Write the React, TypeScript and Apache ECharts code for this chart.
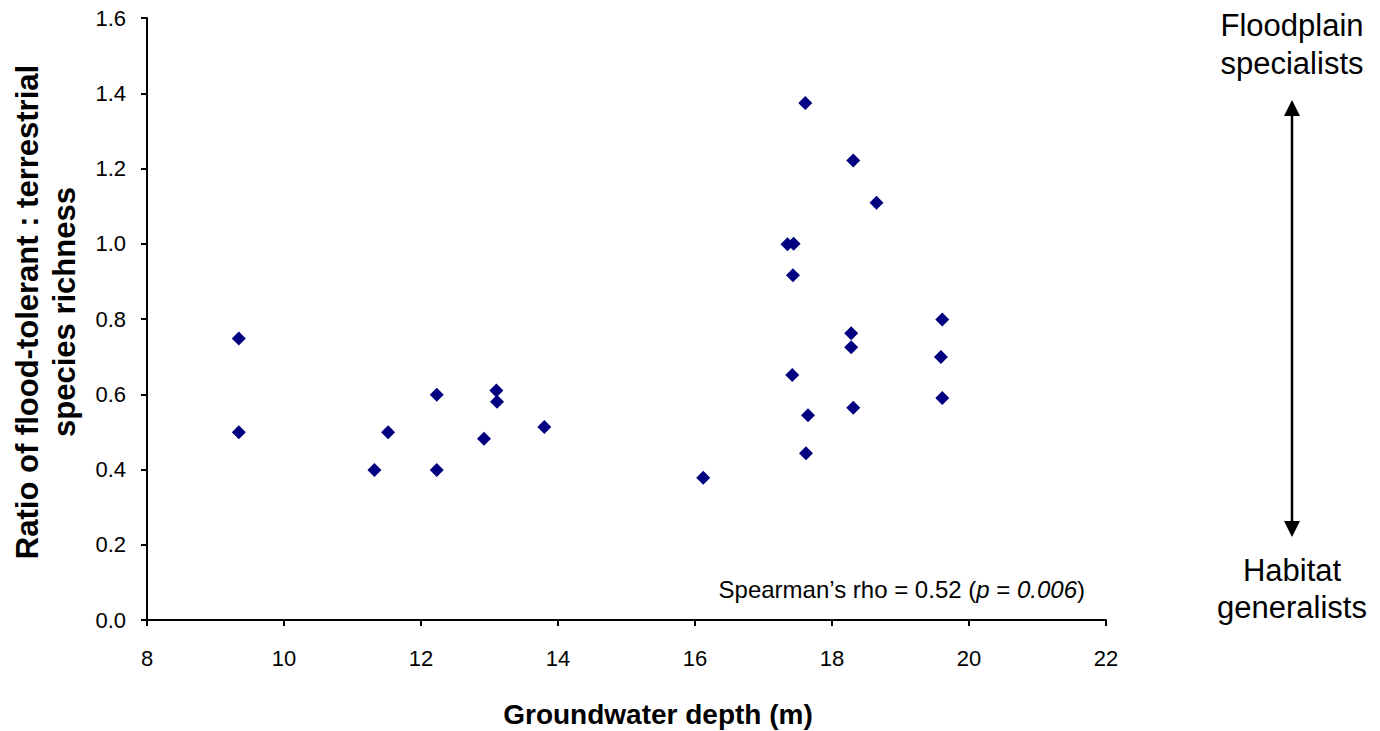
import React, { useEffect, useRef } from "react";
import * as echarts from "echarts";

const groundwaterDepth: number[] = [
  9.34, 9.34, 11.32, 11.52, 12.23, 12.23, 12.92, 13.1, 13.11, 13.8,
  16.12, 17.61, 17.35, 17.44, 17.43, 17.42, 17.65, 17.62,
  18.31, 18.65, 18.28, 18.28, 18.31, 19.59, 19.61, 19.61,
];
const floodRatio: number[] = [
  0.748, 0.499, 0.399, 0.499, 0.599, 0.399, 0.482, 0.61, 0.58, 0.513,
  0.378, 1.374, 0.999, 1.0, 0.916, 0.651, 0.544, 0.443,
  1.221, 1.109, 0.762, 0.725, 0.564, 0.699, 0.799, 0.59,
];

const xTitle = "Groundwater depth (m)";
const yTitleLines = ["Ratio of flood-tolerant : terrestrial", "species richness"];
const topLabel = ["Floodplain", "specialists"];
const bottomLabel = ["Habitat", "generalists"];

const FONT = '"Liberation Sans", Arial, Helvetica, sans-serif';

export default function App() {
  const ref = useRef<HTMLDivElement>(null);

  useEffect(() => {
    document.body.style.margin = "0";
    if (!ref.current) return;
    const chart = echarts.init(ref.current, undefined, { renderer: "svg" });
    const points = groundwaterDepth.map((x, i) => [x, floodRatio[i]]);

    const axisLine = { show: true, lineStyle: { color: "#000", width: 2 } };
    const axisTick = { show: true, inside: false, length: 6, lineStyle: { color: "#000", width: 2 } };

    chart.setOption({
      animation: false,
      backgroundColor: "#fff",
      grid: { left: 147, right: 274, top: 18, bottom: 111, containLabel: false },
      xAxis: {
        type: "value",
        min: 8,
        max: 22,
        interval: 2,
        axisLine,
        axisTick,
        splitLine: { show: false },
        axisLabel: { color: "#000", fontSize: 22, fontFamily: FONT, margin: 27 },
      },
      yAxis: {
        type: "value",
        min: 0,
        max: 1.6,
        interval: 0.2,
        axisLine,
        axisTick,
        splitLine: { show: false },
        axisLabel: {
          color: "#000",
          fontSize: 22,
          fontFamily: FONT,
          margin: 21,
          formatter: (v: number) => v.toFixed(1),
        },
      },
      series: [
        {
          type: "scatter",
          data: points,
          symbol: "diamond",
          symbolSize: 14,
          itemStyle: { color: "#000080", opacity: 1 },
        },
      ],
      graphic: [
        {
          type: "text",
          x: 658,
          y: 714,
          style: {
            text: xTitle,
            font: `bold 28px ${FONT}`,
            fill: "#000",
            textAlign: "center",
            textVerticalAlign: "middle",
          },
        },
        {
          type: "text",
          x: 46,
          y: 312,
          rotation: Math.PI / 2,
          style: {
            text: yTitleLines.join("\n"),
            font: `bold 31px ${FONT}`,
            lineHeight: 37,
            fill: "#000",
            textAlign: "center",
            textVerticalAlign: "middle",
          },
        },
        {
          type: "text",
          x: 1085,
          y: 589,
          style: {
            text: "{a|Spearman\u2019s rho = 0.52 (}{i|p}{a| = }{i|0.006}{a|)}",
            textAlign: "right",
            textVerticalAlign: "middle",
            rich: {
              a: { fontSize: 24, fontFamily: FONT, fill: "#000", color: "#000" },
              i: { fontSize: 24, fontFamily: FONT, fontStyle: "italic", fill: "#000", color: "#000" },
            },
          },
        },
        {
          type: "text",
          x: 1292,
          y: 44,
          style: {
            text: topLabel.join("\n"),
            font: `31px ${FONT}`,
            lineHeight: 38,
            fill: "#000",
            textAlign: "center",
            textVerticalAlign: "middle",
          },
        },
        {
          type: "text",
          x: 1292,
          y: 589,
          style: {
            text: bottomLabel.join("\n"),
            font: `31px ${FONT}`,
            lineHeight: 37,
            fill: "#000",
            textAlign: "center",
            textVerticalAlign: "middle",
          },
        },
        {
          type: "line",
          shape: { x1: 1292, y1: 112, x2: 1292, y2: 525 },
          style: { stroke: "#000", lineWidth: 2.5 },
        },
        {
          type: "polygon",
          shape: { points: [[1292, 100], [1284, 116], [1300, 116]] },
          style: { fill: "#000" },
        },
        {
          type: "polygon",
          shape: { points: [[1292, 537], [1284, 521], [1300, 521]] },
          style: { fill: "#000" },
        },
      ],
    });

    return () => chart.dispose();
  }, []);

  return <div ref={ref} style={{ width: 1380, height: 731 }} />;
}
